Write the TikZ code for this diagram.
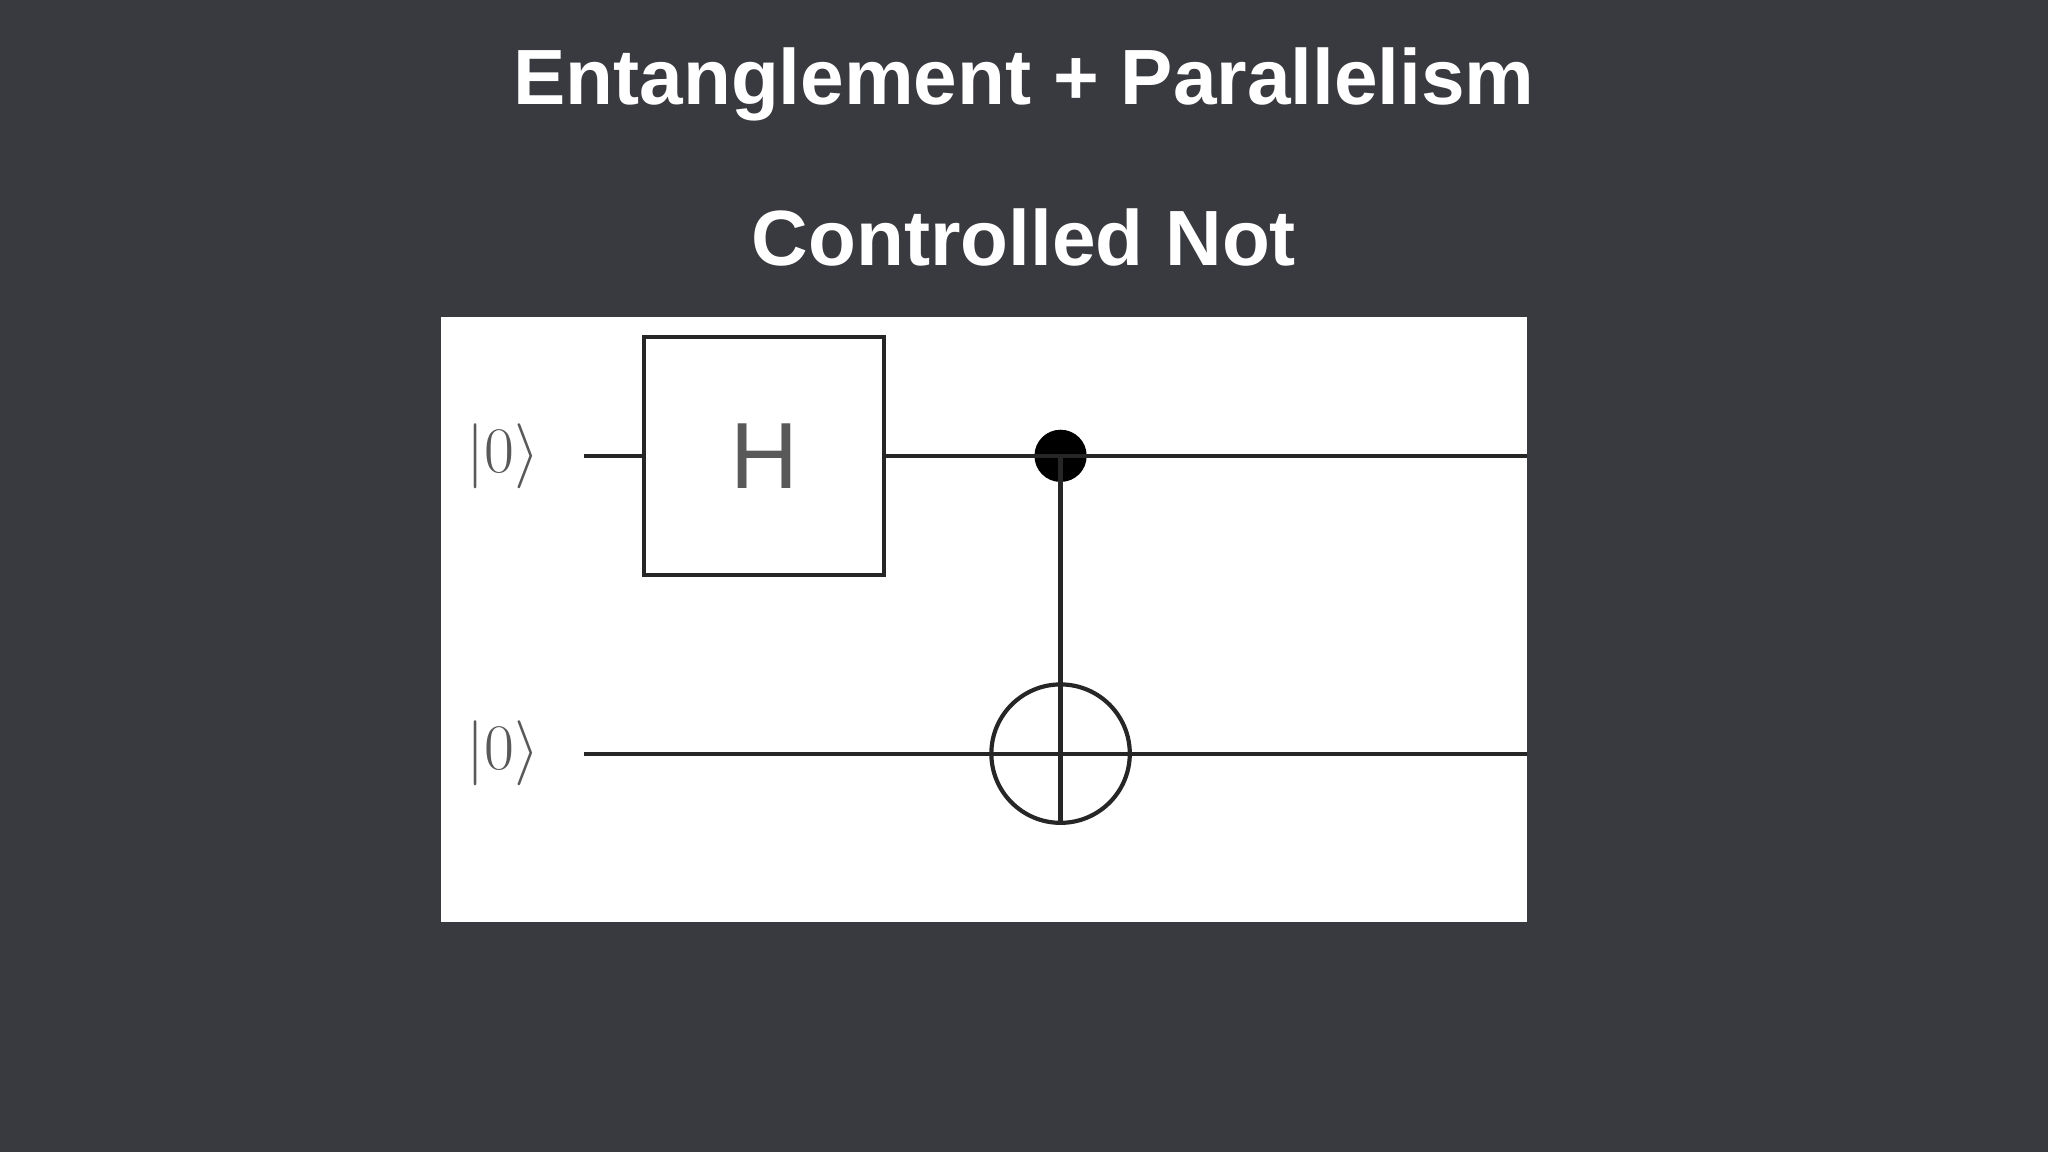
\documentclass[tikz,border=0pt]{standalone}
\usepackage{fontspec}
\setmainfont{Liberation Sans}
\usepackage{amsmath}
\begin{document}
\begin{tikzpicture}[x=0.5pt,y=-0.5pt,
  wire/.style={line width=1.6pt,draw=black!85},
  title/.style={text=white,font=\bfseries\fontsize{30}{36}\selectfont},
  ket/.style={text=black!65,font=\fontsize{28}{32}\selectfont}]
\fill[fill={rgb,255:red,57;green,58;blue,63}] (0,0) rectangle (1568,882);
\useasboundingbox (0,0) rectangle (1568,882);
\node[title] (t1) at (784,65) {Entanglement + Parallelism};
\node[title] (t2) at (784,182) {Controlled Not};
\fill[white] (338,243) rectangle (1169,706);
\node[ket] (k1) at (385,349) {$|0\rangle$};
\node[ket] (k2) at (385,577) {$|0\rangle$};
\node[draw=black!85,line width=1.6pt,minimum width=92pt,minimum height=91pt,inner sep=0,text=black!65,font=\fontsize{36}{40}\selectfont] (H) at (585,349) {H};
\coordinate (w1s) at (447,349); \coordinate (w1e) at (1169,349);
\coordinate (w2s) at (447,577); \coordinate (w2e) at (1169,577);
\node[circle,fill=black,minimum size=20pt,inner sep=0] (c) at (812,349) {};
\node[circle,draw=black!85,line width=1.6pt,minimum size=53pt,inner sep=0] (tg) at (812,577) {};
\draw[wire] (w1s) -- (H.west);
\draw[wire] (H.east) -- (w1e);
\draw[wire] (w2s) -- (w2e);
\draw[wire] (c.center) -- (tg.south);
\end{tikzpicture}
\end{document}
